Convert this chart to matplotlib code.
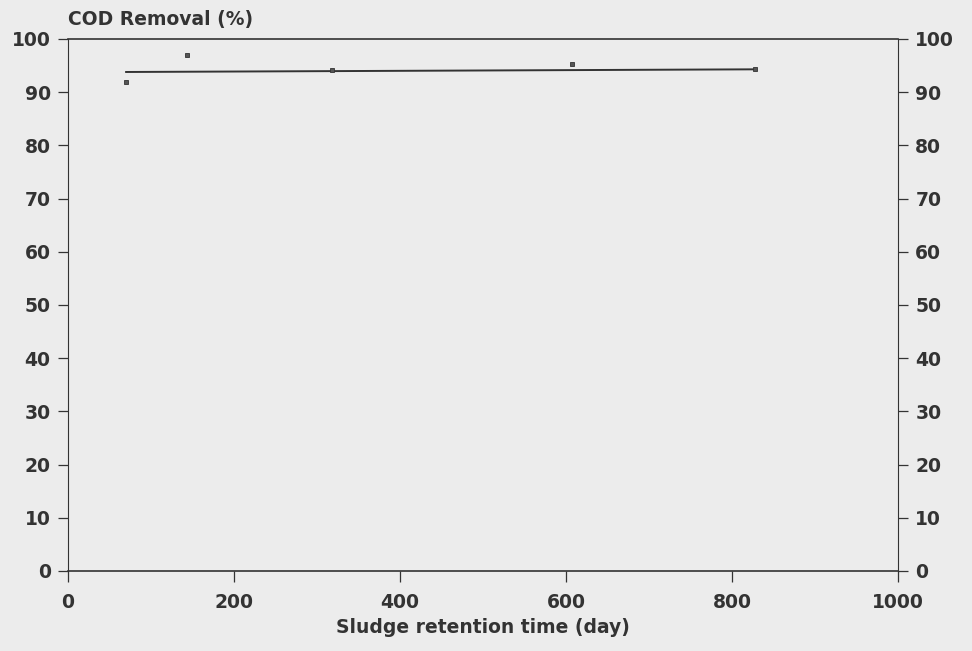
import numpy as np
import matplotlib.pyplot as plt

# measured points (sludge retention time, COD removal)
srt_days = [70, 143, 318, 607, 828]
cod_removal = [91.9, 97.0, 94.2, 95.3, 94.4]

# fitted trend line end points as drawn
fit_x = [70, 828]
fit_y = [93.8, 94.3]

x_ticks = [0, 200, 400, 600, 800, 1000]
y_ticks = [0, 10, 20, 30, 40, 50, 60, 70, 80, 90, 100]

plt.rcParams["font.family"] = ["DejaVu Sans"]
plt.rcParams["font.weight"] = "bold"
ink = "#333333"
fs = 13.5

fig = plt.figure(figsize=(9.72, 6.51), dpi=100, facecolor="#ececec")
ax = fig.add_axes([68 / 972, 1 - 571 / 651, 830 / 972, 532 / 651])
ax.set_facecolor("#ececec")

ax.plot(fit_x, fit_y, color=ink, lw=1.4)
ax.plot(srt_days, cod_removal, ls="none", marker="s", ms=3.4,
        mfc="#555555", mec=ink, mew=0.6)

ax.set_xlim(0, 1000)
ax.set_ylim(0, 100)
ax.set_xticks(x_ticks)
ax.set_yticks(y_ticks)

for side in ["left", "right", "top", "bottom"]:
    ax.spines[side].set_color(ink)
    ax.spines[side].set_linewidth(1.2)
ax.spines["left"].set_linewidth(0.8)
ax.spines["right"].set_linewidth(0.8)

# x ticks hang below the axis, y ticks point outwards on both sides
ax.tick_params(axis="x", direction="out", length=8, width=0.9, color=ink,
               labelcolor=ink, labelsize=fs, pad=8, top=False)
ax.tick_params(axis="y", direction="out", length=7.5, width=0.9, color=ink,
               labelcolor=ink, labelsize=fs, pad=5,
               left=True, right=True, labelleft=True, labelright=True)

ax.set_xlabel("Sludge retention time (day)", fontsize=fs, color=ink,
              fontweight="bold", labelpad=4)
fig.text(68 / 972, 1 - 19 / 651, "COD Removal (%)", fontsize=fs, color=ink,
         fontweight="bold", ha="left", va="center")

plt.savefig("out.png", dpi=100, facecolor=fig.get_facecolor())
